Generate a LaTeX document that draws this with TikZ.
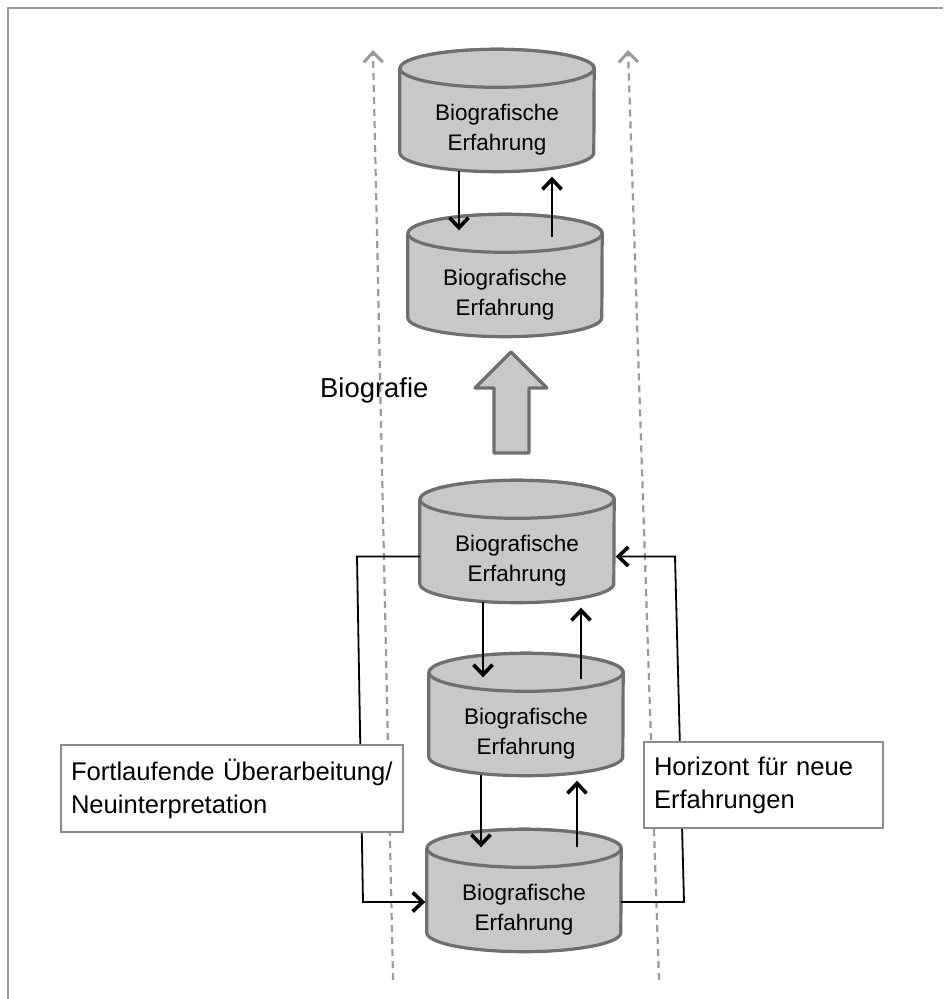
\documentclass[tikz,border=0pt]{standalone}
\usepackage{fontspec}
\setmainfont{Liberation Sans}
\usetikzlibrary{arrows.meta,backgrounds}
\definecolor{cylFill}{HTML}{C8C8C8}
\definecolor{cylLine}{HTML}{6E6E6E}
\definecolor{axisGray}{HTML}{9A9A9A}
\definecolor{boxLine}{HTML}{8C8C8C}

\begin{document}
\begin{tikzpicture}[x=1pt,y=-1pt,
    erf/.style={minimum width=194pt,minimum height=84pt,inner sep=0pt,align=center,
      font=\fontsize{22.5}{30}\selectfont},
    cyl/.style={draw=cylLine,fill=cylFill,line width=3.2pt,line join=round},
    note/.style={draw=boxLine,fill=white,line width=1.4pt,inner xsep=10pt,inner ysep=3pt,
      align=left,font=\fontsize{25.6}{33}\selectfont},
    flow/.style={-{Straight Barb[length=10pt,width=19pt,line width=3.6pt]},line width=2.6pt},
    feedback/.style={-{Straight Barb[length=10pt,width=19pt,line width=3.6pt]},line width=1.8pt},
    timeline/.style={-{Straight Barb[length=10pt,width=19pt,line width=3pt]},draw=axisGray,
      line width=2.2pt,dash pattern=on 7pt off 5pt}]
    \useasboundingbox (0,0) rectangle (943,999);
    \draw[axisGray,line width=2.5pt] (8,999) -- (8,8) -- (943,8);
    % time axis
    \coordinate (lbot) at (393,980);
    \coordinate (ltop) at (373,50);
    \coordinate (rbot) at (659,980);
    \coordinate (rtop) at (628,50);
    \draw[timeline] (lbot) -- (ltop);
    \draw[timeline] (rbot) -- (rtop);
    % experiences
    \node[erf] (erf1) at (497,129.5) {Biografische\\Erfahrung};
    \node[erf] (erf2) at (505,294.5) {Biografische\\Erfahrung};
    \node[erf] (erf3) at (517,560.5) {Biografische\\Erfahrung};
    \node[erf] (erf4) at (526,733.5) {Biografische\\Erfahrung};
    \node[erf] (erf5) at (524,909.5) {Biografische\\Erfahrung};
    \begin{scope}[on background layer]
      \foreach \n in {erf1,erf2,erf3,erf4,erf5}{
        \draw[cyl] ([yshift=19pt]\n.north west) -- ([yshift=19pt]\n.south west)
          arc[start angle=180,end angle=360,x radius=97pt,y radius=19pt]
          -- ([yshift=19pt]\n.north east)
          arc[start angle=0,end angle=180,x radius=97pt,y radius=19pt] -- cycle;
        \draw[cyl] ([yshift=19pt]\n.north) ellipse[x radius=97pt,y radius=19pt];
      }
    \end{scope}
    \draw[flow] ([xshift=-38pt,yshift=1pt]erf1.south) -- ([xshift=-46pt,yshift=22pt]erf2.north);
    \draw[flow] ([xshift=47pt,yshift=15pt]erf2.north) -- ([xshift=55pt,yshift=-5pt]erf1.south);
    \draw[flow] ([xshift=-34pt,yshift=1pt]erf3.south) -- ([xshift=-43pt,yshift=14pt]erf4.north);
    \draw[flow] ([xshift=55pt,yshift=12pt]erf4.north) -- ([xshift=64pt,yshift=-5pt]erf3.south);
    \draw[flow] ([xshift=-45pt,yshift=1pt]erf4.south) -- ([xshift=-43pt,yshift=20pt]erf5.north);
    \draw[flow] ([xshift=53pt,yshift=20pt]erf5.north) -- ([xshift=51pt,yshift=-5pt]erf4.south);
    % Biografie
    \node[anchor=base west,inner sep=0pt,font=\fontsize{27.4}{33}\selectfont] (bio) at (320,397) {Biografie};
    \draw[cyl] (494,453) -- (494,388) -- (475,388) -- (511,352) -- (547,388) -- (529,388)
      -- (529,453) -- cycle;
    % feedback loops
    \coordinate (fl1) at (357,556.5);
    \coordinate (fl2) at (363,902);
    \coordinate (fr1) at (684,902);
    \coordinate (fr2) at (675,556.5);
    \draw[feedback,shorten >=1.5pt] ([yshift=4pt]erf3.west) -- (fl1) -- (fl2) -- (erf5.west |- fl2);
    \draw[feedback,shorten >=1.5pt] (erf5.east |- fr1) -- (fr1) -- (fr2) -- ([yshift=4pt]erf3.east);
    \node[note,minimum height=87pt,text width=322pt] (rev) at (232,788.5)
      {Fortlaufende Überarbeitung/\\Neuinterpretation};
    \node[note,minimum height=86pt,text width=219pt] (hor) at (763.5,785)
      {Horizont für neue\\Erfahrungen};
  \end{tikzpicture}
\end{document}
